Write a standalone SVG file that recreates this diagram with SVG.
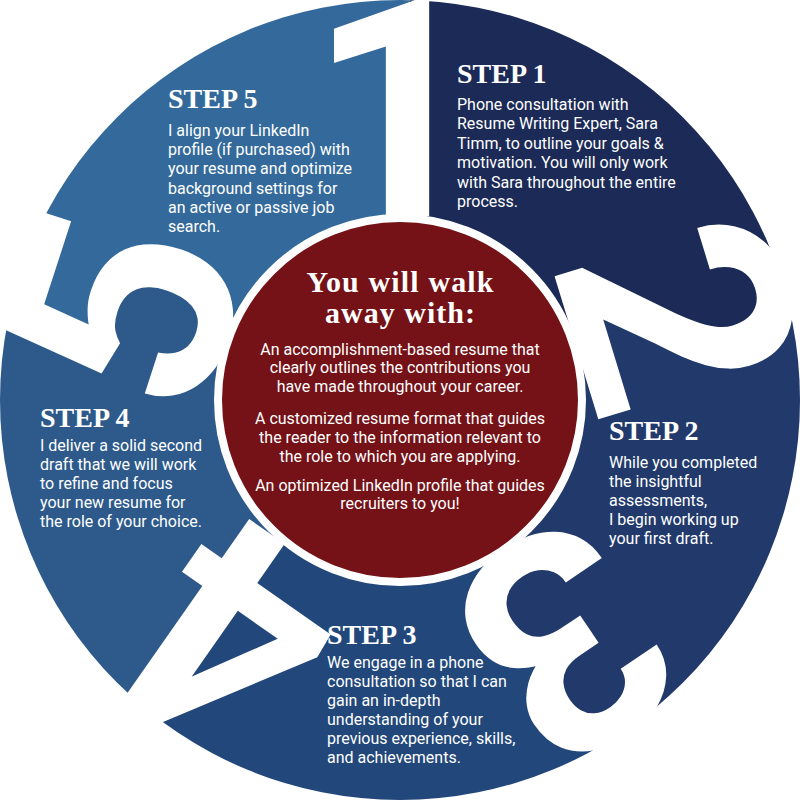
<svg xmlns="http://www.w3.org/2000/svg" width="800" height="800" viewBox="0 0 800 800">
<defs>
<clipPath id="disc"><circle cx="400" cy="400" r="400"/></clipPath>
</defs>
<style>
.head{font-family:"Liberation Serif","Times New Roman",serif;font-weight:bold;font-size:28px;fill:#ffffff;}
.title{font-family:"Liberation Serif","Times New Roman",serif;font-weight:bold;font-size:30px;fill:#ffffff;text-anchor:middle;}
.body{font-family:Roboto,"Liberation Sans",sans-serif;font-size:16px;fill:#ffffff;}
.ctr{text-anchor:middle;}
.digit{font-family:Roboto,"Liberation Sans",sans-serif;font-weight:bold;font-size:308px;fill:#ffffff;text-anchor:middle;}
</style>
<rect width="800" height="800" fill="#ffffff"/>
<g id="sectors" clip-path="url(#disc)">
<path id="sector1" fill="#1b2a56" d="M400,400 L410,216 L410,-30 L750,-206 L1006,50 L831.8,273.2 L778.2,289.6 L772.7,322.7 L738.8,348.7 L704.3,348.8 L580.3,298.9 L590.3,341.8 Z"/>
<path id="sector2" fill="#213a6b" d="M400,400 L590.3,341.8 L580.3,298.9 L704.3,348.8 L738.8,348.7 L772.7,322.7 L778.2,289.6 L831.8,273.2 L1089,521.5 L973,801.5 L653.9,776.4 L619.8,725.8 L594,732.3 L557.9,714.5 L545.2,686.8 L539.2,651.1 L524.2,646.7 L488.1,628.9 L479.6,598.4 L509.6,562.5 Z"/>
<path id="sector3" fill="#22477a" d="M400,400 L509.6,562.5 L479.6,598.4 L488.1,628.9 L524.2,646.7 L539.2,651.1 L545.2,686.8 L557.9,714.5 L594,732.3 L619.8,725.8 L653.9,776.4 L521.6,1089.4 L218.8,1076 L115.7,750.3 L268.2,532.4 Z"/>
<path id="sector4" fill="#2d5a8b" d="M400,400 L268.2,532.4 L115.7,750.3 L-206,750 L-300,400 L-44.1,297.7 L20.5,318.8 L87.3,330 L102.9,301.4 L130.9,270.5 L173.5,268.6 L206.9,295.2 L212.3,336.9 Z"/>
<path id="sector5" fill="#346a9b" d="M400,400 L212.3,336.9 L206.9,295.2 L173.5,268.6 L130.9,270.5 L102.9,301.4 L87.3,330 L20.5,318.8 L-44.1,297.7 L-136,-50 L160.6,-257.8 L410,-30 L410,216 Z"/>
</g>
<g id="digits">
<text class="digit" x="397" y="216">1</text>
<text class="digit" x="400" y="216" transform="rotate(73 400 400)">2</text>
<text class="digit" x="400" y="216" transform="rotate(146 400 400)">3</text>
<text class="digit" x="400" y="216" transform="rotate(215 400 400)">4</text>
<text class="digit" x="400" y="216" transform="rotate(288 400 400)">5</text>
</g>
<g id="center">
<circle cx="400" cy="400" r="182" fill="#741217" stroke="#ffffff" stroke-width="8"/>
<text class="title" x="400" y="292" textLength="187" lengthAdjust="spacing">You will walk</text>
<text class="title" x="400" y="323" textLength="150" lengthAdjust="spacing">away with:</text>
<text class="body ctr" x="400" y="355">An accomplishment-based resume that</text>
<text class="body ctr" x="400" y="373.3">clearly outlines the contributions you</text>
<text class="body ctr" x="400" y="391.7">have made throughout your career.</text>
<text class="body ctr" x="400" y="424">A customized resume format that guides</text>
<text class="body ctr" x="400" y="442.7">the reader to the information relevant to</text>
<text class="body ctr" x="400" y="461.7">the role to which you are applying.</text>
<text class="body ctr" x="400" y="490.7">An optimized LinkedIn profile that guides</text>
<text class="body ctr" x="400" y="509.3">recruiters to you!</text>
</g>
<g id="step1">
<text class="head" x="457" y="83">STEP 1</text>
<text class="body" x="457" y="110">Phone consultation with</text>
<text class="body" x="457" y="129.4">Resume Writing Expert, Sara</text>
<text class="body" x="457" y="148.8">Timm, to outline your goals &amp;</text>
<text class="body" x="457" y="168.2">motivation. You will only work</text>
<text class="body" x="457" y="187.6">with Sara throughout the entire</text>
<text class="body" x="457" y="207">process.</text>
</g>
<g id="step2">
<text class="head" x="609" y="440">STEP 2</text>
<text class="body" x="609" y="468">While you completed</text>
<text class="body" x="609" y="487">the insightful</text>
<text class="body" x="609" y="506">assessments,</text>
<text class="body" x="609" y="525">I begin working up</text>
<text class="body" x="609" y="544">your first draft.</text>
</g>
<g id="step3">
<text class="head" x="327" y="644">STEP 3</text>
<text class="body" x="327" y="668">We engage in a phone</text>
<text class="body" x="327" y="687">consultation so that I can</text>
<text class="body" x="327" y="706">gain an in-depth</text>
<text class="body" x="327" y="725">understanding of your</text>
<text class="body" x="327" y="744">previous experience, skills,</text>
<text class="body" x="327" y="763">and achievements.</text>
</g>
<g id="step4">
<text class="head" x="40" y="427">STEP 4</text>
<text class="body" x="40" y="451">I deliver a solid second</text>
<text class="body" x="40" y="470">draft that we will work</text>
<text class="body" x="40" y="489">to refine and focus</text>
<text class="body" x="40" y="508">your new resume for</text>
<text class="body" x="40" y="527">the role of your choice.</text>
</g>
<g id="step5">
<text class="head" x="168" y="108">STEP 5</text>
<text class="body" x="168" y="136">I align your LinkedIn</text>
<text class="body" x="168" y="155.2">profile (if purchased) with</text>
<text class="body" x="168" y="174.4">your resume and optimize</text>
<text class="body" x="168" y="193.6">background settings for</text>
<text class="body" x="168" y="212.8">an active or passive job</text>
<text class="body" x="168" y="232">search.</text>
</g>
</svg>
